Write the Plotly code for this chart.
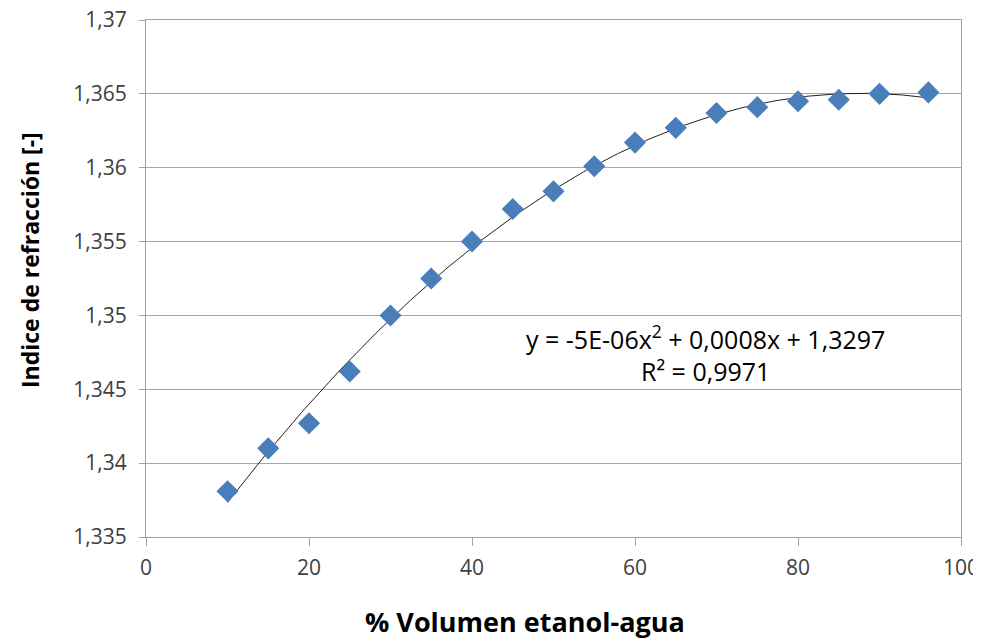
import numpy as np
import plotly.graph_objects as go

# % volumen etanol-agua vs indice de refraccion
volumen = [10, 15, 20, 25, 30, 35, 40, 45, 50, 55, 60, 65, 70, 75, 80, 85, 90, 96]
indice = [1.3381, 1.3410, 1.3427, 1.3462, 1.3500, 1.3525, 1.3550, 1.3572, 1.3584,
          1.3601, 1.3617, 1.3627, 1.3637, 1.3641, 1.3645, 1.3646, 1.3650, 1.3651]

ecuacion = "y = -5E-06x<sup>2</sup> + 0,0008x + 1,3297<br>R² = 0,9971"

# polynomial trendline (order 2) fitted on the data
coef = np.polyfit(volumen, indice, 2)
x_fit = np.linspace(min(volumen), max(volumen), 200)
y_fit = np.polyval(coef, x_fit)

fig = go.Figure()
fig.add_trace(go.Scatter(x=x_fit, y=y_fit, mode='lines',
                         line=dict(color='#202020', width=1), hoverinfo='skip'))
fig.add_trace(go.Scatter(x=volumen, y=indice, mode='markers',
                         marker=dict(symbol='diamond', size=17, color='#4A7EBB')))

axis_font = dict(family='Open Sans', size=21, color='#404040')
fig.update_layout(
    width=973, height=631,
    margin=dict(l=138, r=20, t=12, b=102),
    plot_bgcolor='white', paper_bgcolor='white',
    showlegend=False,
    separators=',.',
    xaxis=dict(range=[0, 100], dtick=20, tickfont=axis_font, automargin=False,
               showgrid=False, showline=True, linecolor='#a0a0a0', mirror=True,
               ticks='outside', ticklen=8, tickcolor='#a0a0a0', zeroline=False,
               ticklabelstandoff=4, ticklabeloverflow='allow'),
    yaxis=dict(range=[1.335, 1.37], dtick=0.005, tickfont=axis_font, automargin=False,
               showgrid=True, gridcolor='#a6a6a6', gridwidth=1,
               showline=True, linecolor='#a0a0a0', mirror=True,
               ticks='outside', ticklen=6, tickcolor='#a0a0a0', zeroline=False,
               ticklabelstandoff=8, ticklabeloverflow='allow'),
)
# axis titles (placed as in the original, slightly off-centre)
fig.add_annotation(x=0.4656, y=-0.1644, xref='paper', yref='paper', showarrow=False,
                   xanchor='center', yanchor='middle',
                   text='<b>% Volumen etanol-agua</b>',
                   font=dict(family='Open Sans', size=27, color='black'))
fig.add_annotation(x=-0.1423, y=0.5358, xref='paper', yref='paper', showarrow=False,
                   xanchor='center', yanchor='middle',
                   textangle=-90, text='<b>Indice de refracción [-]</b>',
                   font=dict(family='Open Sans', size=23, color='black'))
fig.add_annotation(x=68.7, y=1.3474, xref='x', yref='y', text=ecuacion, showarrow=False,
                   xanchor='center', yanchor='middle',
                   align='center', font=dict(family='Open Sans', size=25, color='black'))

fig.write_html("out.html")
